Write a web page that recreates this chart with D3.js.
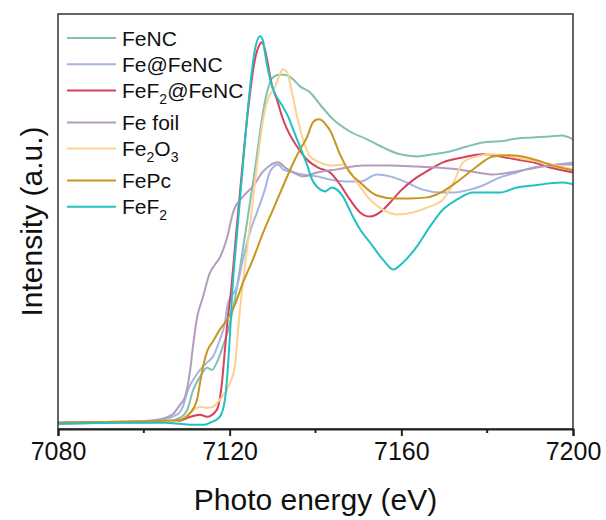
<!DOCTYPE html>
<html>
<head>
<meta charset="utf-8">
<script src="https://cdn.jsdelivr.net/npm/d3@7"></script>
<style>
  body { margin: 0; background: #fff; }
  text { font-family: "Liberation Sans", Arial, sans-serif; fill: #111; }
</style>
</head>
<body>
<div id="chart"></div>
<script>
// Fe K-edge XANES spectra, normalised intensity vs energy (eV)
const seriesNames = ["FeNC", "Fe@FeNC", "FeF_2@FeNC", "Fe foil", "Fe_2O_3", "FePc", "FeF_2"];
const seriesColors = ["#82bfb7", "#a4b5e4", "#d8405c", "#b49cbd", "#fbd291", "#c8961e", "#23c0c2"];
const xTicks = [7080, 7120, 7160, 7200];
const xMinorTicks = [7100, 7140, 7180];

const feNC = [
    [7080, 0.004], [7095, 0.004], [7105, 0.008], [7108.4, 0.023], [7110.1, 0.054],
    [7111.5, 0.131], [7113.1, 0.181], [7114.7, 0.216], [7115.9, 0.208], [7117.0, 0.236],
    [7118.4, 0.297], [7120.1, 0.39], [7121.2, 0.479], [7123.6, 0.73], [7125.9, 0.981],
    [7127.5, 1.174], [7128.7, 1.278], [7130.1, 1.336], [7131.7, 1.347], [7133.4, 1.344],
    [7134.8, 1.328], [7136.4, 1.301], [7138.7, 1.278], [7141.0, 1.232], [7144.1, 1.174],
    [7148.0, 1.127], [7152.0, 1.097], [7155.7, 1.066], [7159.7, 1.039], [7163.6, 1.031],
    [7167.4, 1.039], [7171.3, 1.05], [7175.3, 1.069], [7179.0, 1.085], [7183.0, 1.089],
    [7186.9, 1.1], [7190.7, 1.104], [7194.6, 1.108], [7197.4, 1.112], [7200, 1.097]
];
const feAtFeNC = [
    [7080, 0.004], [7095, 0.004], [7103, 0.012], [7107.7, 0.035], [7109.1, 0.066],
    [7110.3, 0.131], [7111.5, 0.17], [7113.1, 0.208], [7114.7, 0.236], [7116.1, 0.259],
    [7117.7, 0.324], [7118.9, 0.39], [7119.6, 0.467], [7121.7, 0.529], [7123.1, 0.633],
    [7124.7, 0.737], [7126.6, 0.826], [7128.2, 0.903], [7129.4, 0.973], [7131.3, 1.0],
    [7132.4, 0.981], [7134.8, 0.969], [7137.1, 0.961], [7140.3, 0.954], [7143.4, 0.942],
    [7147.3, 0.934], [7150.4, 0.934], [7154.3, 0.961], [7157.4, 0.954], [7161.3, 0.93],
    [7165.0, 0.903], [7169.0, 0.892], [7172.0, 0.892], [7176.0, 0.903], [7179.0, 0.919],
    [7183.0, 0.95], [7186.9, 0.969], [7190.7, 0.988], [7194.6, 0.996], [7200, 1.008]
];
const feF2AtFeNC = [
    [7080, 0.004], [7095, 0.008], [7105, 0.008], [7108.4, 0.012], [7110.8, 0.027],
    [7113.1, 0.035], [7114.7, 0.027], [7117.0, 0.054], [7118.2, 0.158], [7118.9, 0.286],
    [7119.6, 0.413], [7120.1, 0.479], [7121.5, 0.73], [7122.9, 0.981], [7124.3, 1.212],
    [7125.9, 1.405], [7126.9, 1.46], [7127.5, 1.471], [7128.2, 1.444], [7128.7, 1.405],
    [7129.9, 1.301], [7131.0, 1.251], [7132.2, 1.185], [7133.4, 1.135], [7135.7, 1.069],
    [7138.0, 1.019], [7140.6, 0.988], [7143.4, 0.969], [7145.7, 0.923], [7148.0, 0.865],
    [7150.4, 0.815], [7152.7, 0.799], [7155.0, 0.815], [7157.4, 0.853], [7159.7, 0.896],
    [7163.6, 0.95], [7166.7, 0.981], [7169.7, 1.008], [7174.4, 1.027], [7179.0, 1.039],
    [7183.0, 1.031], [7186.9, 1.019], [7190.7, 1.008], [7194.6, 0.988], [7200, 0.969]
];
const feFoil = [
    [7080, 0.0], [7090, 0.004], [7096.8, 0.008], [7102.6, 0.015], [7106.6, 0.035],
    [7108.4, 0.073], [7109.6, 0.104], [7110.8, 0.208], [7111.5, 0.305], [7112.4, 0.409],
    [7113.8, 0.49], [7115.4, 0.583], [7116.6, 0.614], [7117.7, 0.641], [7119.4, 0.718],
    [7120.8, 0.815], [7123.1, 0.876], [7125.4, 0.915], [7127.8, 0.973], [7129.4, 0.996],
    [7131.3, 1.008], [7132.9, 0.988], [7134.5, 0.973], [7137.1, 0.954], [7140.3, 0.969],
    [7145.0, 0.981], [7151.1, 0.996], [7157.4, 0.996], [7163.6, 0.992], [7168.3, 0.988],
    [7173.0, 0.981], [7177.6, 0.969], [7181.4, 0.961], [7185.3, 0.969], [7189.3, 0.981],
    [7193.0, 0.992], [7197.0, 1.0], [7200, 1.0]
];
const fe2O3 = [
    [7080, 0.004], [7095, 0.004], [7105, 0.008], [7108.4, 0.015], [7110.8, 0.042],
    [7113.1, 0.066], [7114.7, 0.062], [7116.1, 0.066], [7117.7, 0.093], [7120.1, 0.158],
    [7121.2, 0.22], [7121.9, 0.351], [7122.4, 0.44], [7123.6, 0.614], [7124.7, 0.761],
    [7126.4, 1.0], [7127.8, 1.174], [7128.9, 1.251], [7130.6, 1.301], [7131.7, 1.347],
    [7132.4, 1.367], [7133.4, 1.355], [7134.5, 1.278], [7135.7, 1.185], [7137.1, 1.097],
    [7138.7, 1.031], [7141.0, 1.008], [7143.4, 0.996], [7146.4, 1.0], [7148.0, 0.973],
    [7149.7, 0.93], [7152.7, 0.865], [7155.7, 0.826], [7159.0, 0.807], [7162.7, 0.815],
    [7166.7, 0.838], [7169.7, 0.865], [7171.3, 0.903], [7172.5, 0.942], [7174.4, 1.008],
    [7177.6, 1.031], [7181.4, 1.039], [7185.3, 1.031], [7189.3, 1.019], [7193.0, 1.008],
    [7197.0, 0.992], [7200, 0.981]
];
const fePc = [
    [7080, 0.004], [7095, 0.008], [7105, 0.012], [7108.4, 0.015], [7110.8, 0.042],
    [7112.4, 0.093], [7113.1, 0.158], [7113.8, 0.22], [7114.9, 0.286], [7116.1, 0.317],
    [7117.7, 0.363], [7119.4, 0.402], [7121.2, 0.459], [7123.1, 0.544], [7125.4, 0.633],
    [7127.8, 0.737], [7130.1, 0.826], [7132.4, 0.915], [7135.2, 1.019], [7136.4, 1.058],
    [7138.0, 1.104], [7139.4, 1.162], [7140.6, 1.174], [7141.5, 1.17], [7142.7, 1.147],
    [7143.4, 1.131], [7145.7, 1.039], [7148.0, 0.969], [7150.4, 0.93], [7154.3, 0.88],
    [7158.1, 0.869], [7162.0, 0.869], [7166.0, 0.873], [7169.7, 0.896], [7173.7, 0.942],
    [7177.6, 0.992], [7181.4, 1.031], [7185.3, 1.035], [7189.3, 1.027], [7193.0, 1.008],
    [7197.0, 0.988], [7200, 0.977]
];
const feF2 = [
    [7080, 0.0], [7095, 0.004], [7105, 0.004], [7108.4, 0.0], [7111.5, -0.004],
    [7114.0, -0.004], [7115.4, 0.004], [7117.7, 0.027], [7118.9, 0.093], [7119.6, 0.22],
    [7120.1, 0.351], [7120.5, 0.479], [7121.7, 0.73], [7123.1, 1.0], [7124.7, 1.29],
    [7125.9, 1.444], [7127.1, 1.494], [7127.8, 1.475], [7128.2, 1.432], [7129.9, 1.301],
    [7131.0, 1.259], [7132.2, 1.228], [7133.6, 1.185], [7134.8, 1.135], [7135.7, 1.097],
    [7137.1, 1.039], [7138.0, 1.0], [7139.2, 0.942], [7140.3, 0.915], [7141.5, 0.9],
    [7142.2, 0.896], [7143.8, 0.911], [7145.2, 0.9], [7146.4, 0.876], [7148.7, 0.799],
    [7150.4, 0.749], [7152.7, 0.699], [7155.7, 0.633], [7158.1, 0.595], [7160.4, 0.622],
    [7163.6, 0.683], [7166.7, 0.761], [7169.7, 0.826], [7173.0, 0.865], [7176.7, 0.892],
    [7179.0, 0.892], [7183.0, 0.892], [7186.9, 0.911], [7190.7, 0.919], [7194.6, 0.927],
    [7197.7, 0.93], [7200, 0.923]
];
const seriesData = [feNC, feAtFeNC, feF2AtFeNC, feFoil, fe2O3, fePc, feF2];

const width = 606;
const height = 520;
const margin = { top: 14, right: 33, bottom: 91, left: 58 };
const innerW = width - margin.left - margin.right;
const innerH = height - margin.top - margin.bottom;

const svg = d3.select("#chart").append("svg")
    .attr("width", width)
    .attr("height", height);

const g = svg.append("g")
    .attr("transform", `translate(${margin.left},${margin.top})`);

const x = d3.scaleLinear().domain([7080, 7200]).range([0, innerW]);
const y = d3.scaleLinear().domain([-0.02, 1.58]).range([innerH, 0]);

g.append("clipPath").attr("id", "clip")
    .append("rect").attr("width", innerW).attr("height", innerH);

const line = d3.line()
    .x((d) => x(d[0]))
    .y((d) => y(d[1]))
    .curve(d3.curveMonotoneX);

g.append("g")
    .attr("clip-path", "url(#clip)")
    .selectAll("path")
    .data(seriesData)
    .enter()
    .append("path")
    .attr("d", line)
    .attr("fill", "none")
    .attr("stroke", (d, i) => seriesColors[i])
    .attr("stroke-width", 2);

// frame
g.append("rect")
    .attr("width", innerW)
    .attr("height", innerH)
    .attr("fill", "none")
    .attr("stroke", "#333")
    .attr("stroke-width", 1.5);

// bottom axis
const xAxis = g.append("g")
    .attr("transform", `translate(0,${innerH})`)
    .call(d3.axisBottom(x).tickValues(xTicks).tickSize(7).tickPadding(6).tickFormat(d3.format("d")));
xAxis.select(".domain").attr("stroke", "#222").attr("stroke-width", 2);
xAxis.selectAll(".tick line").attr("stroke", "#222").attr("stroke-width", 2);
xAxis.selectAll(".tick text")
    .attr("font-size", 25)
    .attr("font-family", "Liberation Sans, Arial, sans-serif")
    .attr("fill", "#111");

g.append("g")
    .selectAll("line")
    .data(xMinorTicks)
    .enter()
    .append("line")
    .attr("x1", (d) => x(d))
    .attr("x2", (d) => x(d))
    .attr("y1", innerH)
    .attr("y2", innerH + 4)
    .attr("stroke", "#222")
    .attr("stroke-width", 2);

// axis titles
svg.append("text")
    .attr("x", margin.left + innerW / 2)
    .attr("y", 510)
    .attr("text-anchor", "middle")
    .attr("font-size", 30)
    .text("Photo energy (eV)");

svg.append("text")
    .attr("transform", `translate(42,${margin.top + innerH / 2}) rotate(-90)`)
    .attr("text-anchor", "middle")
    .attr("font-size", 30)
    .text("Intensity (a.u.)");

// legend: rows with a subscript take a little more room
const legend = svg.append("g");
let ly = 38;
seriesNames.forEach((name, i) => {
    legend.append("line")
        .attr("x1", 67).attr("x2", 116)
        .attr("y1", ly).attr("y2", ly)
        .attr("stroke", seriesColors[i])
        .attr("stroke-width", 2);
    const t = legend.append("text")
        .attr("x", 122)
        .attr("y", ly + 7.5)
        .attr("font-size", 21);
    let lowered = false;
    name.split(/(_\d)/).filter((s) => s).forEach((part) => {
        if (part[0] === "_") {
            t.append("tspan").attr("font-size", 14).attr("dy", 6).text(part.slice(1));
            lowered = true;
        } else {
            t.append("tspan").attr("dy", lowered ? -6 : 0).text(part);
            lowered = false;
        }
    });
    ly += name.includes("_") ? 32 : 26.2;
});
</script>
</body>
</html>
